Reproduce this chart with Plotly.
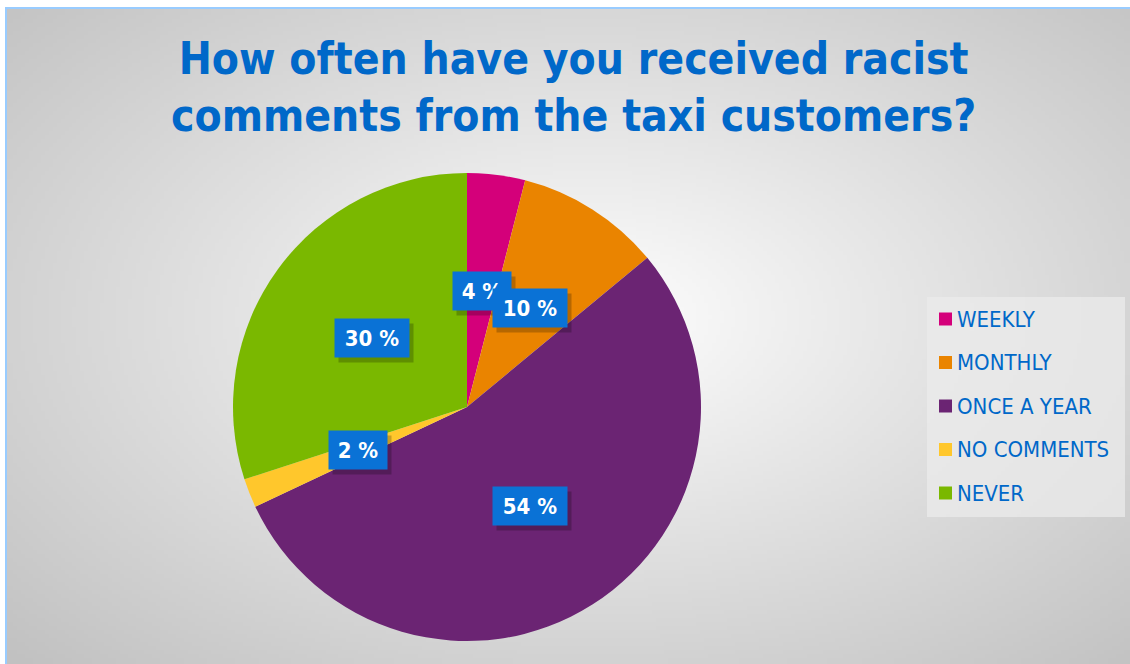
import base64
import struct
import zlib

import numpy as np
import plotly.graph_objects as go

# ---- data ----
categories = ["WEEKLY", "MONTHLY", "ONCE A YEAR", "NO COMMENTS", "NEVER"]
shares = [4, 10, 54, 2, 30]
slice_colors = ["#D4007A", "#EA8400", "#6B2473", "#FFC72C", "#7AB800"]

TITLE = "How often have you received racist<br>comments from the taxi customers?"

W, H = 1130, 664
BLUE = "#0068C9"
FONT = "DejaVu Sans Condensed, DejaVu Sans, sans-serif"

# pie geometry in pixels
CX, CY, R = 467, 407, 234


def px(x):
    return x / W


def py(y):
    return 1 - y / H


def gradient_png(w, h):
    """Radial grey-to-white backdrop encoded as a grayscale PNG data URI."""
    yy, xx = np.mgrid[0:h, 0:w]
    nx = (xx / (w - 1) - 0.52) / 0.52
    ny = (yy / (h - 1) - 0.47) / 0.53
    d = np.clip(np.sqrt(nx ** 2 + ny ** 2) / 1.414, 0, 1)
    img = (255 - 62 * d ** 0.95).astype(np.uint8)
    raw = b"".join(b"\x00" + img[r].tobytes() for r in range(h))

    def chunk(tag, data):
        c = struct.pack(">I", len(data)) + tag + data
        return c + struct.pack(">I", zlib.crc32(tag + data) & 0xFFFFFFFF)

    png = b"\x89PNG\r\n\x1a\n"
    png += chunk(b"IHDR", struct.pack(">IIBBBBB", w, h, 8, 0, 0, 0, 0))
    png += chunk(b"IDAT", zlib.compress(raw, 9))
    png += chunk(b"IEND", b"")
    return "data:image/png;base64," + base64.b64encode(png).decode()


fig = go.Figure()

fig.add_trace(go.Pie(
    labels=categories,
    values=shares,
    marker=dict(colors=slice_colors, line=dict(width=0)),
    sort=False,
    direction="clockwise",
    rotation=0,
    textinfo="none",
    hoverinfo="label+percent",
    showlegend=False,
    domain=dict(x=[px(CX - R), px(CX + R)], y=[py(CY + R), py(CY - R)]),
))

annotations = []
shapes = []

# percentage call-outs placed halfway along each slice's bisector
total = sum(shares)
cum = 0
for v in shares:
    mid = (cum + v / 2) / total * 2 * np.pi
    cum += v
    lx = CX + 0.5 * R * np.sin(mid)
    ly = CY - 0.5 * R * np.cos(mid)
    label = f"{v} %"
    bw = 58 if v < 10 else 74
    # soft drop shadow
    annotations.append(dict(
        x=px(lx + 4), y=py(ly + 5), xref="paper", yref="paper",
        text=" ", showarrow=False, width=bw, height=38, borderpad=0,
        bgcolor="rgba(0,0,0,0.22)", xanchor="center", yanchor="middle",
    ))
    annotations.append(dict(
        x=px(lx), y=py(ly), xref="paper", yref="paper",
        text=f"<b>{label}</b>", showarrow=False, width=bw, height=38,
        borderpad=0, bgcolor="#0A72D6", xanchor="center", yanchor="middle",
        font=dict(family=FONT, size=22, color="white"),
    ))

# title
annotations.append(dict(
    x=px(573), y=py(87), xref="paper", yref="paper", text=f"<b>{TITLE}</b>",
    showarrow=False, xanchor="center", yanchor="middle",
    font=dict(family=FONT, size=44, color=BLUE),
))

# legend panel
shapes.append(dict(
    type="rect", xref="paper", yref="paper",
    x0=px(927), x1=px(1125), y0=py(517), y1=py(297),
    fillcolor="rgba(235,235,235,0.75)", line=dict(width=0), layer="below",
))
for i, (name, col) in enumerate(zip(categories, slice_colors)):
    yc = 319 + i * 43.5
    shapes.append(dict(
        type="rect", xref="paper", yref="paper",
        x0=px(939), x1=px(952), y0=py(yc + 6.5), y1=py(yc - 6.5),
        fillcolor=col, line=dict(width=0),
    ))
    annotations.append(dict(
        x=px(955), y=py(yc), xref="paper", yref="paper", text=name,
        showarrow=False, xanchor="left", yanchor="middle",
        font=dict(family=FONT, size=22, color=BLUE),
    ))

# chart frame
shapes.append(dict(
    type="rect", xref="paper", yref="paper",
    x0=px(6), x1=px(W + 5), y0=py(H + 5), y1=py(8),
    line=dict(color="#99CCFF", width=2), fillcolor="rgba(0,0,0,0)",
))

fig.update_layout(
    width=W, height=H,
    margin=dict(l=0, r=0, t=0, b=0),
    paper_bgcolor="white",
    plot_bgcolor="rgba(0,0,0,0)",
    annotations=annotations,
    shapes=shapes,
    images=[dict(
        source=gradient_png(283, 164), xref="paper", yref="paper",
        x=px(7), y=py(9), sizex=px(W - 7), sizey=1 - 9 / H,
        sizing="stretch", xanchor="left", yanchor="top", layer="below",
    )],
)

fig.write_html("out.html")
